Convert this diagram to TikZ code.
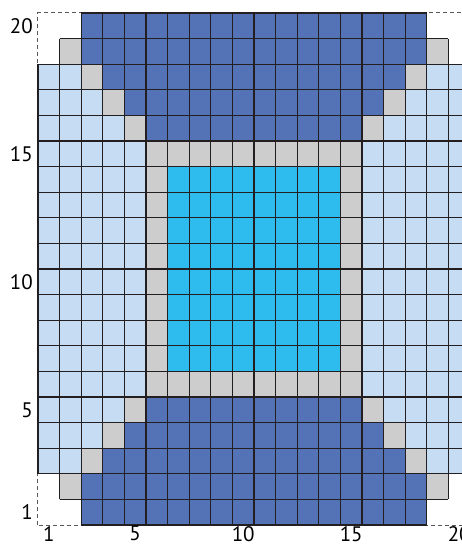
\documentclass[tikz,border=0pt]{standalone}
\usepackage{fontspec}
\setmainfont{PT Sans}
\definecolor{deepblue}{HTML}{5472B6}
\definecolor{paleblue}{HTML}{C5DCF2}
\definecolor{midgray}{HTML}{CDCDCD}
\definecolor{skyblue}{HTML}{2EBCEE}
\definecolor{gridink}{HTML}{231F20}
\tikzset{
  cellgrid/.style={draw=gridink,line width=1.2pt,step=1},
  axislabel/.style={inner sep=0pt,font=\fontsize{21}{21}\selectfont}
}
\newcommand{\gridcell}[3]{\fill[#3] (#1-1,#2-1) rectangle (#1,#2);}

\begin{document}
\begin{tikzpicture}[x=21.6pt,y=25.6pt]
\useasboundingbox (-38pt,-19pt) rectangle (424pt,525pt);
% Outline of the full field
\draw[gridink!75,line width=1pt,dash pattern=on 4pt off 3pt] (0,0) rectangle (20,20);
% Pale side bands
\fill[paleblue] (0,2) rectangle (20,18);
% Top and bottom steps
\foreach \r/\a/\b in {2/3/18, 3/4/17, 4/5/16, 5/6/15, 16/6/15, 17/5/16, 18/4/17, 19/3/18} {
  \pgfmathtruncatemacro{\ga}{\a-1}
  \pgfmathtruncatemacro{\gb}{\b+1}
  \gridcell{\ga}{\r}{midgray}
  \gridcell{\gb}{\r}{midgray}
  \fill[deepblue] (\a-1,\r-1) rectangle (\b,\r);
}
\fill[deepblue] (2,0) rectangle (18,1);
\fill[deepblue] (2,19) rectangle (18,20);
% Centre block with its frame
\fill[midgray] (5,5) rectangle (15,15);
\fill[skyblue] (6,6) rectangle (14,14);
% Cell lines
\draw[cellgrid] (0,2) grid (20,18);
\draw[cellgrid] (1,1) grid (19,2);
\draw[cellgrid] (1,18) grid (19,19);
\draw[cellgrid] (2,0) grid (18,1);
\draw[cellgrid] (2,19) grid (18,20);
% Axis numbers
\foreach \v in {1,5,10,15,20} {
  \node[axislabel,anchor=east] (yl\v) at (-0.23,\v-0.5) {\v};
  \node[axislabel,anchor=north] (xl\v) at (\v-0.5,-0.04) {\v};
}
\end{tikzpicture}
\end{document}
